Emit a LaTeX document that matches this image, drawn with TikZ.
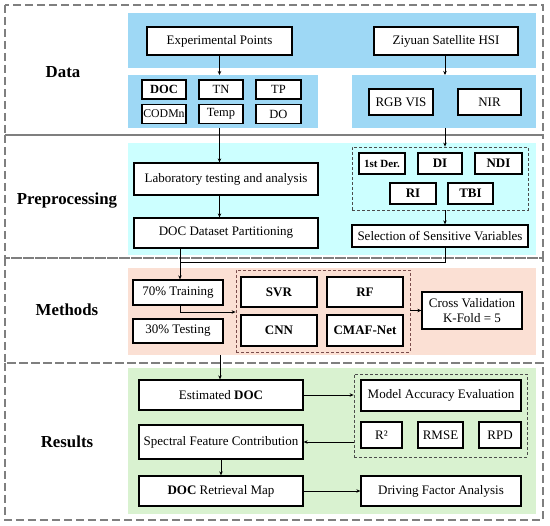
\documentclass[tikz,border=0pt]{standalone}
\usepackage{fontspec}
\setmainfont{Liberation Serif}
\usetikzlibrary{arrows.meta}
\definecolor{dblue}{HTML}{9ED8F5}
\definecolor{pcyan}{HTML}{CCFFFF}
\definecolor{msalmon}{HTML}{FBE0D4}
\definecolor{rgreen}{HTML}{D9F2D0}
\definecolor{dashgray}{HTML}{7F7F7F}
\tikzset{
  section/.style={draw=dashgray, line width=1.2pt, dash pattern=on 8pt off 4pt},
  group/.style={draw=black!70, line width=0.8pt, dash pattern=on 3pt off 2pt},
  box/.style={draw=black, fill=white, line width=1.3pt, inner sep=0pt, align=center, font=\fontsize{13}{15}\selectfont},
  sbox/.style={box, font=\fontsize{12.5}{14}\selectfont},
  bbox/.style={box, font=\fontsize{13}{15}\selectfont\bfseries},
  title/.style={font=\fontsize{16.8}{19}\selectfont\bfseries},
  arr/.style={-{Stealth[length=4pt,width=3.5pt]}, line width=0.9pt},
  ln/.style={line width=0.9pt}
}
\begin{document}
\begin{tikzpicture}[x=1pt,y=-1pt]
\useasboundingbox (0,0) rectangle (550,526);
% sections
\draw[section] (5,5) rectangle (543,135);
\draw[section] (5,135) rectangle (543,258);
\draw[section] (5,258) rectangle (543,363);
\draw[section] (5,363) rectangle (543,520);
% panels
\fill[dblue] (128,13) rectangle (536,68);
\fill[dblue] (128,75) rectangle (318,128);
\fill[dblue] (352,75) rectangle (536,128);
\fill[pcyan] (128,143) rectangle (536,255);
\fill[msalmon] (128,268) rectangle (536,355);
\fill[rgreen] (128,368) rectangle (536,514);
% titles
\node[title] (tdata) at (63,72) {Data};
\node[title] (tpre) at (67,201) {Preprocessing};
\node[title] (tmeth) at (67,310) {Methods};
\node[title] (tres) at (67,442) {Results};
% Data
\node[box, minimum width=145pt, minimum height=28pt] (exp) at (219.5,41) {Experimental Points};
\node[box, minimum width=144pt, minimum height=28pt] (ziy) at (446,41) {Ziyuan Satellite HSI};
\node[bbox, font=\fontsize{12.5}{14}\selectfont\bfseries, minimum width=44pt, minimum height=19pt] (doc) at (164,89.5) {DOC};
\node[sbox, minimum width=44pt, minimum height=19pt] (tn) at (221,89.5) {TN};
\node[sbox, minimum width=45pt, minimum height=19pt] (tp) at (278.5,89.5) {TP};
\node[sbox, font=\fontsize{11.8}{14}\selectfont, minimum width=44pt, minimum height=19pt] (cod) at (164,114) {CODMn};
\node[sbox, minimum width=44pt, minimum height=19pt] (temp) at (221,114) {Temp};
\node[sbox, minimum width=45pt, minimum height=19pt] (do) at (278.5,114) {DO};
\node[box, minimum width=64pt, minimum height=26pt] (rgb) at (401,102) {RGB VIS};
\node[box, minimum width=63pt, minimum height=26pt] (nir) at (489.5,102) {NIR};
\coordinate (p2t) at (219.5,75);
\coordinate (p2b) at (219.5,128);
\coordinate (p3t) at (445,75);
\coordinate (p3b) at (445,128);
\draw[arr] (exp.south) -- (p2t);
\draw[arr] (ziy.south -| p3t) -- (p3t);
% Preprocessing
\node[box, minimum width=184pt, minimum height=32pt] (lab) at (226,179) {Laboratory testing and analysis};
\node[box, minimum width=184pt, minimum height=30pt] (dset) at (226,233) {DOC Dataset Partitioning};
\draw[arr] (p2b) -- (p2b |- lab.north);
\draw[arr] (lab.south -| p2b) -- (p2b |- dset.north);
\node[group, minimum width=176pt, minimum height=63pt, inner sep=0pt] (g1) at (440,178.5) {};
\node[bbox, font=\fontsize{11}{12}\selectfont\bfseries, minimum width=46pt, minimum height=21pt] (der) at (382,163.5) {1st Der.};
\node[bbox, minimum width=44pt, minimum height=21pt] (di) at (440,163.5) {DI};
\node[bbox, minimum width=47pt, minimum height=21pt] (ndi) at (498.5,163.5) {NDI};
\node[bbox, minimum width=46pt, minimum height=21pt] (ri) at (413,193.5) {RI};
\node[bbox, minimum width=45pt, minimum height=21pt] (tbi) at (470.5,193.5) {TBI};
\node[box, minimum width=176pt, minimum height=22pt] (sel) at (440,236) {Selection of Sensitive Variables};
\draw[arr] (p3b) -- (p3b |- g1.north);
\draw[arr] (g1.south -| p3b) -- (p3b |- sel.north);
% Methods
\node[box, minimum width=90pt, minimum height=25pt] (train) at (178,292.5) {70\% Training};
\node[box, minimum width=90pt, minimum height=24pt] (test) at (178,331) {30\% Testing};
\coordinate (jn) at (180,262);
\coordinate (sp) at (180,312);
\draw[ln] (sel.south -| p3b) |- (jn);
\draw[arr] (dset.south -| jn) -- (jn |- train.north);
\node[group, draw=black!55!red!40!gray, minimum width=174pt, minimum height=82pt, inner sep=0pt] (g2) at (323,311) {};
\node[bbox, minimum width=76pt, minimum height=30pt] (svr) at (279,292) {SVR};
\node[bbox, minimum width=76pt, minimum height=30pt] (rf) at (365,292) {RF};
\node[bbox, minimum width=76pt, minimum height=31pt] (cnn) at (279,330.5) {CNN};
\node[bbox, minimum width=76pt, minimum height=31pt] (cmaf) at (365,330.5) {CMAF-Net};
\node[box, minimum width=100pt, minimum height=37pt] (cv) at (472,310.5) {Cross Validation\\K-Fold = 5};
\draw[ln] (train.south -| sp) -- (sp);
\draw[arr] (sp) -- (sp -| g2.west);
\draw[arr] (g2.east |- cv.west) -- (cv.west);
% Results
\coordinate (mb) at (220,355);
\node[box, minimum width=164pt, minimum height=30pt] (est) at (221,395) {Estimated \textbf{DOC}};
\node[box, minimum width=164pt, minimum height=34pt] (spec) at (221,442) {Spectral Feature Contribution};
\node[box, minimum width=164pt, minimum height=30pt] (map) at (221,491) {\textbf{DOC} Retrieval Map};
\draw[arr] (mb) -- (mb |- est.north);
\node[group, minimum width=173pt, minimum height=83pt, inner sep=0pt] (g3) at (440.5,415.5) {};
\node[box, minimum width=160pt, minimum height=31pt] (mae) at (441,395.5) {Model Accuracy Evaluation};
\node[box, minimum width=41pt, minimum height=26pt] (r2) at (381.5,435) {R²};
\node[box, minimum width=45pt, minimum height=26pt] (rmse) at (440.5,435) {RMSE};
\node[box, minimum width=42pt, minimum height=26pt] (rpd) at (500,435) {RPD};
\node[box, minimum width=160pt, minimum height=30pt] (dfa) at (441,491) {Driving Factor Analysis};
\draw[arr] (est.east) -- (g3.west |- est.east);
\draw[arr] (g3.west |- spec.east) -- (spec.east);
\draw[arr] (spec.south) -- (map.north);
\draw[arr] (map.east) -- (dfa.west);
\end{tikzpicture}
\end{document}
